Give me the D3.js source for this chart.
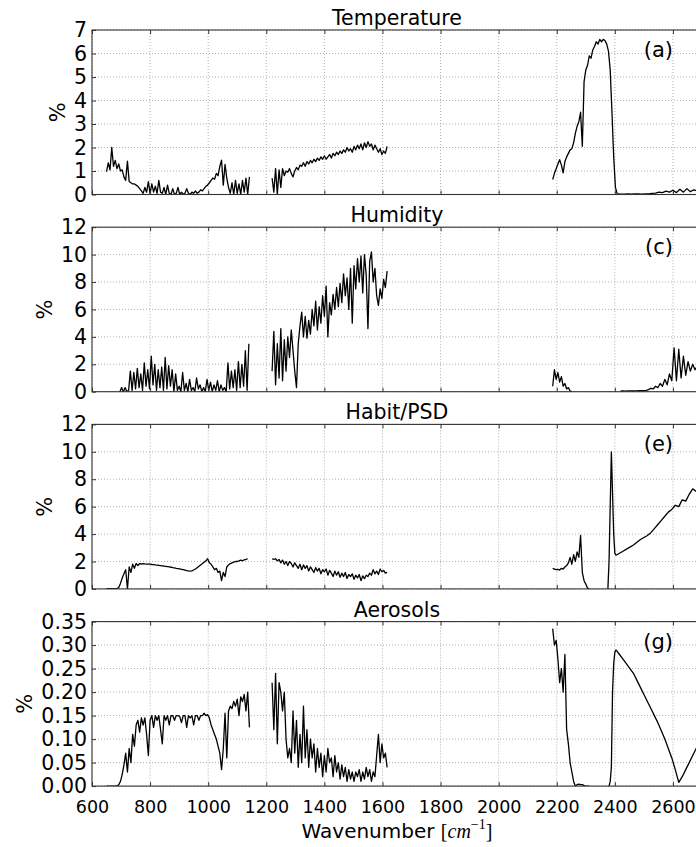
<!DOCTYPE html>
<html>
<head>
  <meta charset="utf-8"/>
  <title>Sensitivity</title>
  <style>
    body { margin: 0; background: #fff; }
    text { font-family: "DejaVu Sans", sans-serif; fill: #000; }
    .grid line { stroke: #a8a8a8; stroke-width: 0.9; stroke-dasharray: 1,2; }
    .axis path { display: none; }
    .axis line { stroke: #333; }
  </style>
</head>
<body>
<div id="graph"></div>
<script src="https://cdn.jsdelivr.net/npm/d3@7"></script>
<script>
    // tick labels
    var xTicks = [600, 800, 1000, 1200, 1400, 1600, 1800, 2000, 2200, 2400, 2600];
    var tempTicks = [0, 1, 2, 3, 4, 5, 6, 7];
    var humTicks = [0, 2, 4, 6, 8, 10, 12];
    var habitTicks = [0, 2, 4, 6, 8, 10, 12];
    var aeroTicks = [0, 0.05, 0.10, 0.15, 0.20, 0.25, 0.30, 0.35];

    // each band: [first wavenumber, spacing, values in %]
    var temperature = [
      [650, 6, [0.97,1.35,1.05,2.0,1.2,1.45,1.1,1.3,1.0,1.05,0.75,0.6,1.42,0.55,0.5,0.45,0.45,0.4,0.35,0.25,
                0.15,0.05,0.3,0.1,0.55,0.05,0.45,0.1,0.35,0.05,0.6,0.1,0.05,0.3,0.0,0.4,0.05,0.0,0.25,0.0,
                0.05,0.3,0.0,0.1,0.0,0.05,0.25,0.05,0.0,0.1,0.05,0.15,0.05,0.1,0.2,0.15,0.25,0.35,0.4,0.5,
                0.6,0.7,0.65,0.9,0.8,1.2,1.46,0.4,1.28,0.7,0.3,0.05,0.5,0.0,0.6,0.05,0.45,0.0,0.6,0.1,
                0.7,0.0,0.75]],
      [1220, 6, [0.7,0.1,1.1,0.0,1.05,0.3,1.1,0.8,1.0,0.95,1.1,0.9,0.75,1.0,1.15,1.05,1.25,1.2,1.35,1.2,
                 1.4,1.3,1.45,1.35,1.5,1.4,1.55,1.45,1.6,1.5,1.65,1.5,1.6,1.7,1.55,1.75,1.65,1.8,1.7,1.85,
                 1.75,1.9,1.8,2.0,1.85,1.95,1.8,2.05,1.9,2.1,1.95,2.15,1.9,2.2,2.0,2.25,2.05,2.15,1.9,2.1,
                 1.95,1.8,1.95,1.7,1.85,1.75,2.05]],
      [2186, 6, [0.64,0.9,1.1,1.3,1.48,1.25,0.92,1.4,1.6,1.75,1.9,1.95,2.2,2.6,2.9,3.1,3.5,2.05,4.8,5.3,
                 5.5,5.9,5.8,6.15,6.3,6.5,6.4,6.6,6.5,6.6,6.55,6.4,6.1,5.3,3.5,1.6,0.3,0.03]],
      [2408, 12, [0.03,0.02,0.02,0.03,0.02,0.03,0.03,0.02,0.03,0.03,0.05,0.06,0.1,0.08,0.14,0.1,0.18,0.08,0.22,0.1,
                  0.25,0.12,0.2,0.15,0.18]]
    ];
    var humidity = [
      [696, 6, [0.0,0.3,0.0,0.3,0.0,0.1,1.5,0.1,1.4,0.2,1.7,0.3,1.3,0.1,2.1,0.4,1.6,0.2,2.6,0.5,
                2.0,0.1,1.6,0.3,1.8,0.1,2.5,0.2,1.9,0.4,1.6,0.0,1.3,0.1,0.4,0.0,1.4,0.1,0.6,0.0,
                0.9,0.1,0.3,0.0,1.0,0.2,0.5,0.0,0.3,0.0,0.9,0.1,0.7,0.0,0.5,0.1,0.8,0.0,0.5,0.1,
                0.3,0.0,2.1,0.2,1.5,0.3,1.6,0.1,2.2,0.3,2.0,0.4,3.0,0.1,3.5]],
      [1220, 6, [1.5,4.4,0.5,3.5,1.0,4.6,0.8,3.8,1.5,4.0,2.5,4.5,3.0,1.5,0.3,3.5,4.8,5.8,4.0,5.5,
                 3.9,5.2,4.2,6.0,4.8,6.6,4.5,6.2,5.0,7.0,5.5,7.7,4.0,6.5,5.6,7.1,6.0,7.6,6.2,7.9,
                 6.5,8.6,7.0,8.3,6.0,9.0,5.0,9.2,7.5,9.7,8.0,9.9,7.2,10.0,8.5,4.6,9.5,10.2,8.0,9.0,
                 7.0,6.3,7.5,6.8,8.2,7.6,8.8]],
      [2186, 6, [0.4,1.6,0.9,1.4,0.7,1.1,0.4,0.6,0.2,0.3,0.05,0.0]],
      [2420, 8, [0.05,0.05,0.04,0.05,0.05,0.05,0.06,0.06,0.07,0.08,0.08,0.1,0.15,0.25,0.2,0.4,0.3,0.6,0.4,0.9,
                 0.5,1.3,0.8,3.2,0.8,3.1,1.0,2.6,1.2,2.2,1.5,2.0,1.6,1.9,1.7,1.8]]
    ];
    var habit = [
      [650, 6, [0.02,0.02,0.02,0.02,0.02,0.02,0.02,0.1,0.4,0.8,1.1,1.4,0.0,1.6,1.2,1.8,1.5,1.85,1.7,1.85,
                1.8,1.85,1.82,1.8,1.8,1.8,1.78,1.77,1.75,1.74,1.72,1.7,1.68,1.66,1.64,1.62,1.6,1.58,1.55,1.53,
                1.5,1.48,1.46,1.43,1.4,1.37,1.33,1.31,1.3,1.32,1.38,1.45,1.55,1.65,1.75,1.85,1.95,2.05,2.2,1.9,
                1.8,1.6,1.4,1.5,1.2,1.3,0.6,1.2,0.9,1.6,1.75,1.85,1.9,1.95,2.0,2.0,2.05,2.1,2.05,2.12,
                2.15,2.2]],
      [1220, 6, [2.2,2.15,2.2,2.05,2.15,1.9,2.1,1.8,2.0,1.7,2.0,1.85,1.6,1.9,1.7,1.5,1.8,1.4,1.75,1.5,
                 1.7,1.3,1.6,1.4,1.2,1.55,1.3,1.5,1.1,1.4,1.25,1.45,1.0,1.35,1.15,0.9,1.3,1.0,1.25,0.85,
                 1.15,0.9,1.2,0.75,1.05,0.9,1.1,0.7,1.0,0.8,1.05,0.6,0.95,0.75,1.0,0.9,1.15,1.0,1.4,1.1,
                 1.3,1.05,1.45,1.25,1.35,1.15,1.2]],
      [2186, 6, [1.5,1.45,1.4,1.42,1.38,1.5,1.45,1.6,1.7,1.9,2.3,1.8,2.5,2.0,2.7,2.3,3.9,1.2,0.6,0.35,
                 0.05,0.0]],
      [2376, 4, [0.0,2.0,6.0,10.0,7.0,4.0,2.6,2.45]],
      [2404, 12, [2.45,2.6,2.75,2.9,3.05,3.2,3.4,3.6,3.75,3.9,4.1,4.4,4.7,5.0,5.3,5.6,5.8,6.1,6.0,6.5,
                  6.4,6.9,7.3,7.1,7.5,7.4]]
    ];
    var aerosols = [
      [650, 6, [0,0,0,0,0,0,0,0.003,0.01,0.025,0.045,0.07,0.03,0.08,0.05,0.11,0.085,0.13,0.14,0.115,
                0.145,0.13,0.145,0.11,0.065,0.14,0.15,0.125,0.15,0.14,0.15,0.12,0.09,0.15,0.14,0.15,0.13,0.15,0.15,0.14,
                0.15,0.15,0.148,0.135,0.15,0.15,0.125,0.15,0.145,0.15,0.13,0.15,0.15,0.14,0.15,0.15,0.155,0.15,0.152,0.145,
                0.13,0.12,0.11,0.10,0.085,0.07,0.035,0.08,0.155,0.06,0.16,0.17,0.165,0.18,0.17,0.185,0.15,0.19,0.18,0.195,
                0.16,0.2,0.125]],
      [1220, 6, [0.22,0.12,0.24,0.09,0.22,0.20,0.16,0.2,0.10,0.06,0.08,0.05,0.16,0.07,0.14,0.04,0.11,0.05,0.17,0.06,
                 0.12,0.04,0.10,0.06,0.09,0.03,0.08,0.04,0.07,0.02,0.065,0.03,0.08,0.05,0.06,0.02,0.065,0.03,0.05,0.015,
                 0.045,0.02,0.04,0.01,0.035,0.015,0.03,0.01,0.03,0.02,0.035,0.01,0.03,0.015,0.04,0.02,0.035,0.01,0.03,0.02,
                 0.065,0.11,0.05,0.09,0.06,0.07,0.04]],
      [2186, 6, [0.335,0.30,0.31,0.27,0.22,0.25,0.20,0.28,0.12,0.09,0.05,0.03,0.01,0.0,0.003,0.004,0.003,0.003,0.001,0.0,
                 0.0,0.0]],
      [2380, 4, [0.0,0.01,0.04,0.2,0.26,0.285,0.29]],
      [2404, 12, [0.29,0.28,0.27,0.26,0.25,0.24,0.225,0.21,0.195,0.18,0.165,0.15,0.135,0.118,0.10,0.08,0.06,0.035,0.008,0.02,
                  0.035,0.05,0.065,0.08,0.095,0.11]]
    ];

    var panels = [
      {title: "Temperature", tag: "(a)", max: 7, ticks: tempTicks, fmt: d3.format("d"), bands: temperature},
      {title: "Humidity", tag: "(c)", max: 12, ticks: humTicks, fmt: d3.format("d"), bands: humidity},
      {title: "Habit/PSD", tag: "(e)", max: 12, ticks: habitTicks, fmt: d3.format("d"), bands: habit},
      {title: "Aerosols", tag: "(g)", max: 0.35, ticks: aeroTicks, fmt: d3.format(".2f"), bands: aerosols}
    ];

    var left = 92, top0 = 30, gap = 197.2,
        width = 610, height = 164.5;

    var svg = d3.select("#graph").append("svg")
                .attr("width", 696)
                .attr("height", 847);

    var x = d3.scaleLinear().domain([600, 2700]).range([0, width]);

    panels.forEach(function(p, i) {
      var g = svg.append("g")
                 .attr("transform", "translate(" + left + "," + (top0 + i * gap) + ")");
      var y = d3.scaleLinear().domain([0, p.max]).range([height, 0]);

      g.append("clipPath").attr("id", "clip" + i)
        .append("rect").attr("width", width).attr("height", height);

      // dotted grid
      var grid = g.append("g").attr("class", "grid");
      grid.selectAll(".gx").data(xTicks).enter().append("line")
          .attr("x1", function(d) { return x(d); }).attr("x2", function(d) { return x(d); })
          .attr("y1", 0).attr("y2", height);
      grid.selectAll(".gy").data(p.ticks).enter().append("line")
          .attr("x1", 0).attr("x2", width)
          .attr("y1", function(d) { return y(d); }).attr("y2", function(d) { return y(d); });

      // spectra
      var line = d3.line()
          .x(function(d) { return x(d[0]); })
          .y(function(d) { return y(d[1]); });
      g.append("g").attr("clip-path", "url(#clip" + i + ")")
        .selectAll("path").data(p.bands).enter().append("path")
          .attr("d", function(b) {
            return line(b[2].map(function(v, k) { return [b[0] + k * b[1], v]; }));
          })
          .attr("fill", "none")
          .attr("stroke", "#000")
          .attr("stroke-width", 1.3)
          .attr("stroke-linejoin", "round");

      // axes, ticks pointing inwards
      var yAxis = g.append("g").attr("class", "axis")
          .call(d3.axisLeft(y).tickValues(p.ticks).tickFormat(p.fmt)
                 .tickSizeInner(-4).tickSizeOuter(0).tickPadding(5));
      yAxis.selectAll("text").style("font-size", "20.5px").attr("font-family", null);

      g.append("g").attr("class", "axis")
          .call(d3.axisTop(x).tickValues(xTicks).tickFormat("")
                 .tickSizeInner(-4).tickSizeOuter(0));

      var xAxis = g.append("g").attr("class", "axis")
          .attr("transform", "translate(0," + height + ")")
          .call(d3.axisBottom(x).tickValues(xTicks)
                 .tickFormat(i == 3 ? d3.format("d") : "")
                 .tickSizeInner(-4).tickSizeOuter(0).tickPadding(14.5));
      xAxis.selectAll("text").style("font-size", "17.5px").attr("font-family", null);

      g.append("rect")
        .attr("width", width).attr("height", height)
        .attr("fill", "none").attr("stroke", "#333").attr("stroke-width", 1.1);

      g.append("text")
        .attr("x", width / 2).attr("y", -5)
        .attr("text-anchor", "middle")
        .style("font-size", "20.5px")
        .text(p.title);

      g.append("text")
        .attr("x", 581).attr("y", 27)
        .attr("text-anchor", "end")
        .style("font-size", "21px")
        .text(p.tag);

      var bb = yAxis.node().getBBox();
      g.append("text")
        .attr("transform", "translate(" + (bb.x - 9) + "," + (height / 2) + ") rotate(-90)")
        .attr("text-anchor", "middle")
        .style("font-size", "21px")
        .text("%");
    });

    var xl = svg.append("text")
        .attr("x", left + width / 2).attr("y", 838)
        .attr("text-anchor", "middle")
        .style("font-size", "20px");
    xl.append("tspan").text("Wavenumber ");
    xl.append("tspan").attr("font-family", "Liberation Serif").text(" [");
    xl.append("tspan").attr("font-family", "Liberation Serif").attr("font-style", "italic").text("cm");
    xl.append("tspan").attr("font-family", "Liberation Serif").style("font-size", "14px").attr("dy", -9).text("\u22121");
    xl.append("tspan").attr("font-family", "Liberation Serif").attr("dy", 9).text("]");
</script>
</body>
</html>
